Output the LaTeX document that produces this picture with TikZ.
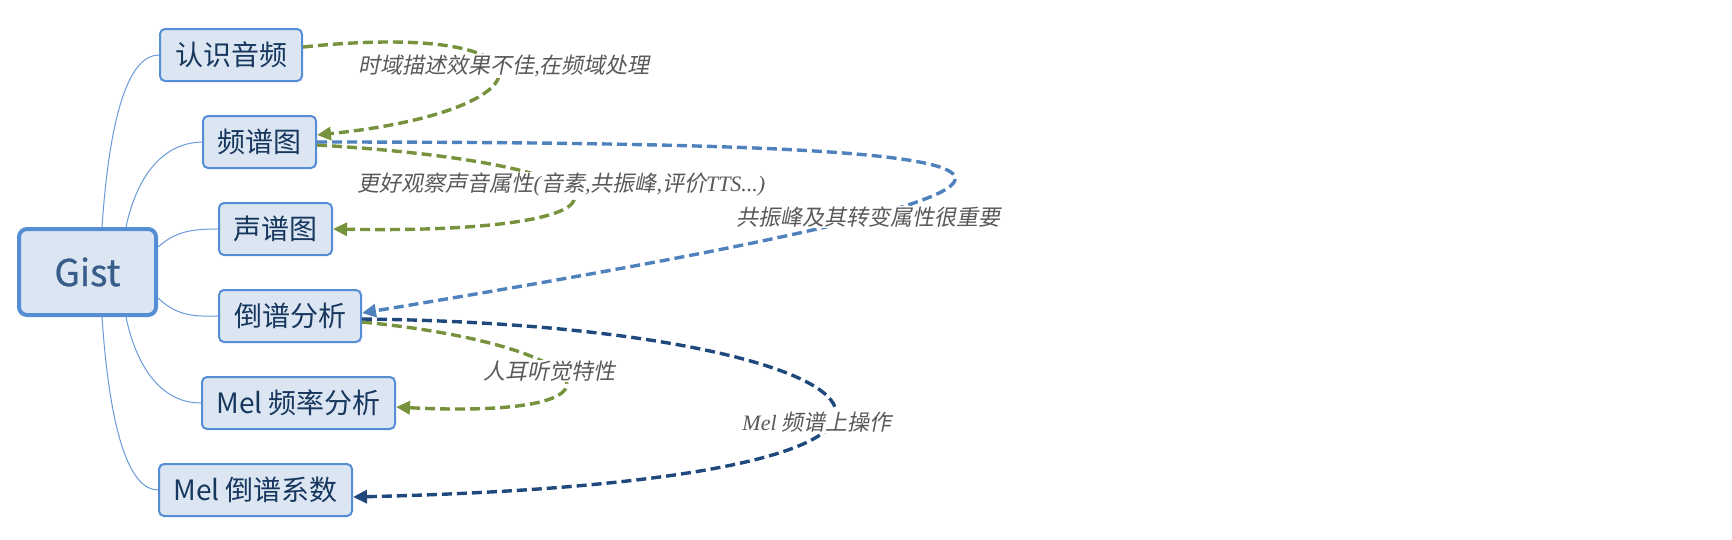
\documentclass[tikz,border=0pt]{standalone}
\usepackage{fontspec}
\usetikzlibrary{arrows.meta,calc}
\newfontfamily\cjkbox{Noto Sans CJK SC}
\newfontfamily\gistfont[FakeBold=0.6]{Noto Sans CJK SC}
\newfontfamily\cjklab[FakeSlant=0.2]{Noto Sans CJK SC}
\newfontfamily\latlab{Liberation Serif}
\newcommand\latx[1]{{\latlab\itshape #1}}
\definecolor{boxfill}{HTML}{DCE6F2}
\definecolor{boxdraw}{HTML}{558ED5}
\definecolor{boxtext}{HTML}{17375E}
\definecolor{gisttext}{HTML}{385D8A}
\definecolor{twigcol}{HTML}{6A9AD8}
\definecolor{relgreen}{HTML}{76923C}
\definecolor{relblue}{HTML}{4F81BD}
\definecolor{relnavy}{HTML}{1F497D}
\definecolor{labtext}{HTML}{595959}
\begin{document}
\begin{tikzpicture}[x=1pt,y=-1pt,
  box/.style={draw=boxdraw, fill=boxfill, line width=2pt, rounded corners=5pt,
    text=boxtext, font=\cjkbox\fontsize{28}{32}\selectfont, inner sep=0pt,
    minimum height=52pt},
  gistbox/.style={box, line width=4pt, rounded corners=8pt, minimum width=137pt,
    minimum height=86pt, text=gisttext, font=\gistfont\fontsize{37}{40}\selectfont},
  twig/.style={draw=twigcol, line width=1pt},
  rel/.style={line width=3.4pt, dash pattern=on 10pt off 5pt,
    -{Triangle[length=14pt,width=13pt]}},
  lab/.style={fill=white, inner sep=1pt, text=labtext,
    font=\cjklab\fontsize{22}{26}\selectfont}]
\useasboundingbox (0,0) rectangle (1732,539);

% nodes
\node[gistbox] (gist) at (87.5,272) {Gist};
\node[box, minimum width=142pt] (a1) at (231,55) {认识音频};
\node[box, minimum width=113pt] (a2) at (259.5,142) {频谱图};
\node[box, minimum width=113pt] (a3) at (275.5,229) {声谱图};
\node[box, minimum width=142pt] (a4) at (290,316) {倒谱分析};
\node[box, minimum width=193pt] (a5) at (298.5,403) {Mel 频率分析};
\node[box, minimum width=193pt] (a6) at (255.5,490) {Mel 倒谱系数};

% tree connectors
\draw[twig] ([xshift=14.5pt]gist.north) .. controls (110,110) and (130,55) .. (a1.west);
\draw[twig] ([xshift=38.5pt]gist.north) .. controls (136,180) and (160,143) .. (a2.west);
\draw[twig] ([yshift=25pt]gist.east) .. controls (175,232) and (190,229) .. (a3.west);
\draw[twig] ([yshift=-26pt]gist.east) .. controls (175,314) and (190,317) .. (a4.west);
\draw[twig] ([xshift=38.5pt]gist.south) .. controls (136,365) and (160,403) .. (a5.west);
\draw[twig] ([xshift=14.5pt]gist.south) .. controls (110,435) and (130,490) .. (a6.west);

% relations
\draw[rel, relgreen] ([yshift=8pt]a1.east) .. controls (560,20) and (560,110) .. ([yshift=7pt]a2.east);
\draw[rel, relgreen] ([yshift=-3pt]a2.east) .. controls (655,165) and (655,235) .. (a3.east);
\draw[rel, relgreen] ([yshift=-6pt]a4.east) .. controls (600,345) and (650,420) .. ([yshift=-4pt]a5.east);
\draw[rel, relblue] (a2.east) .. controls (1080,142) and (1230,170) .. ([yshift=3pt]a4.east);
\draw[rel, relnavy] ([yshift=-3pt]a4.east) .. controls (900,325) and (1080,480) .. ([yshift=-7pt]a6.east);

% labels
\node[lab] (l1) at (504,66) {时域描述效果不佳\latx{,}在频域处理};
\node[lab] (l2) at (561.5,185) {更好观察声音属性\latx{(}音素\latx{,}共振峰\latx{,}评价\latx{TTS...)}};
\node[lab] (l3) at (868.5,217) {共振峰及其转变属性很重要};
\node[lab] (l4) at (549,371) {人耳听觉特性};
\node[lab] (l5) at (817,422) {\latx{Mel} 频谱上操作};
\end{tikzpicture}
\end{document}
